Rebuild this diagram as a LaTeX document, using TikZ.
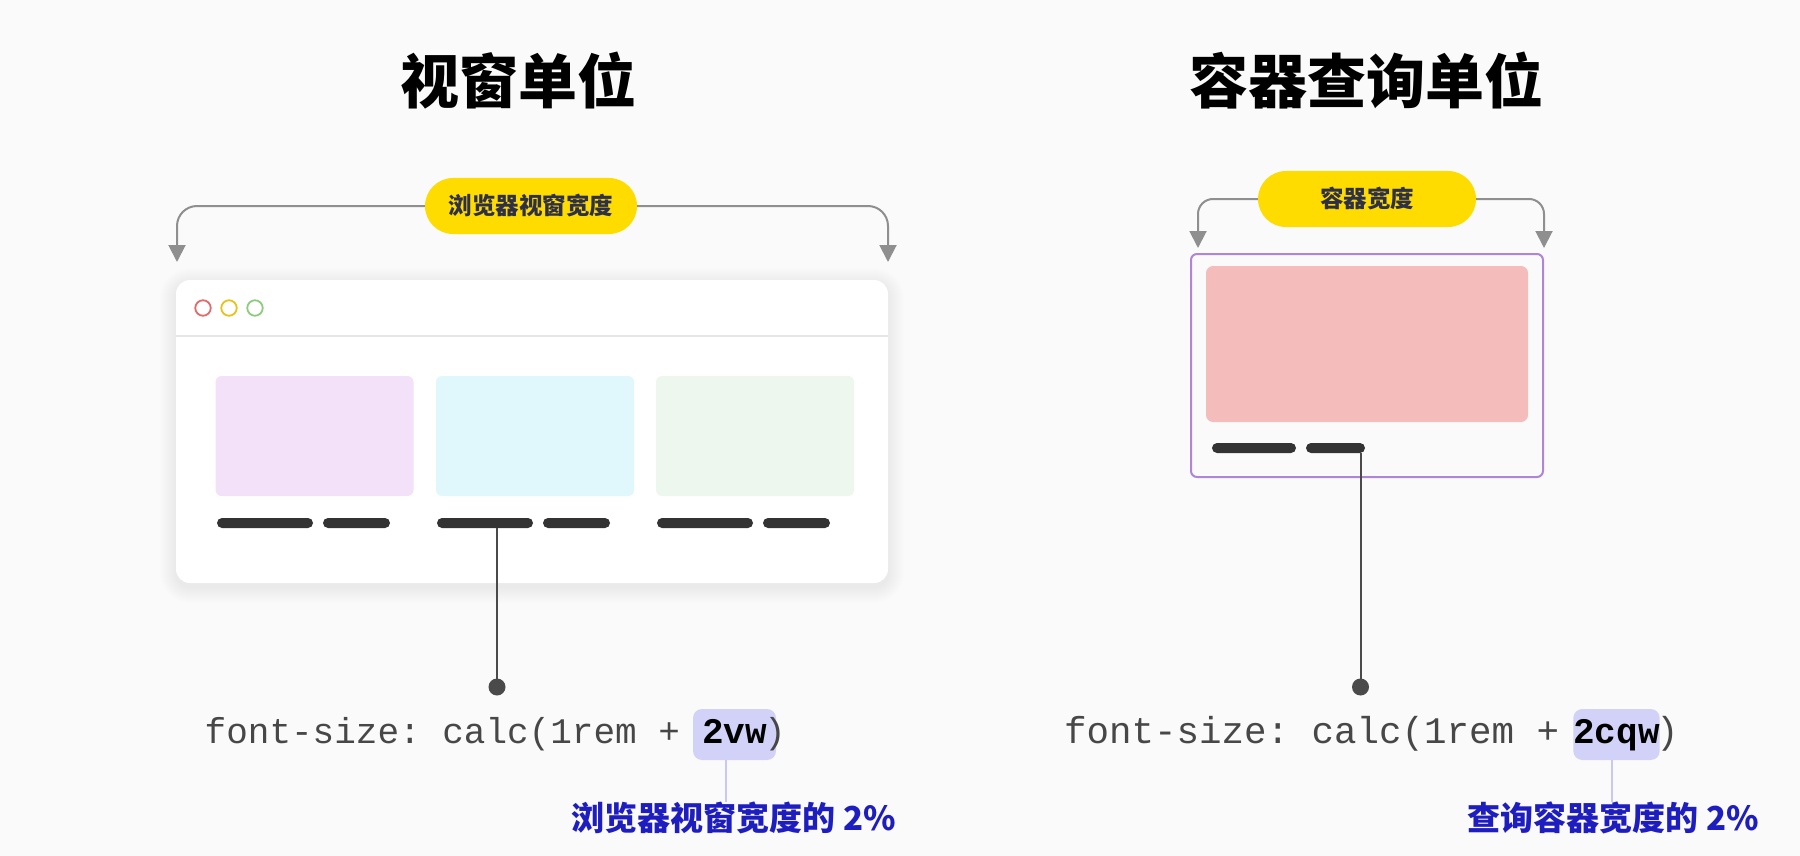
\documentclass[tikz,border=0pt]{standalone}
\usepackage{fontspec}
\newfontfamily\cjk{Noto Sans CJK SC}
\setmonofont{Liberation Mono}
\usetikzlibrary{arrows.meta}
\definecolor{bg}{HTML}{FAFAFA}
\definecolor{brk}{HTML}{8F8F8F}
\definecolor{pillyellow}{HTML}{FFDC00}
\definecolor{pilltext}{HTML}{2E3048}
\definecolor{cardA}{HTML}{F3E1FA}
\definecolor{cardB}{HTML}{E0F7FB}
\definecolor{cardC}{HTML}{EDF7EE}
\definecolor{bar}{HTML}{333333}
\definecolor{conn}{HTML}{4A4A4A}
\definecolor{codegray}{HTML}{474747}
\definecolor{hlfill}{HTML}{D2D2F8}
\definecolor{lavline}{HTML}{C8C8F2}
\definecolor{labblue}{HTML}{1E1EC0}
\definecolor{contborder}{HTML}{AF85DA}
\definecolor{pink}{HTML}{F4BDBB}
\definecolor{dotred}{HTML}{E06B6B}
\definecolor{dotyellow}{HTML}{E8C21A}
\definecolor{dotgreen}{HTML}{8FCB7F}
\definecolor{sepgray}{HTML}{E6E6E6}
\begin{document}
\begin{tikzpicture}[x=1pt,y=-1pt,
  title/.style={inner sep=0, font={\cjk\bfseries\fontsize{59}{64}\selectfont}, text=black},
  pill/.style={fill=pillyellow, rounded corners=28pt, minimum height=56pt, inner sep=0,
    font={\cjk\bfseries\fontsize{23.5}{26}\selectfont}, text=pilltext},
  bracket/.style={draw=brk, line width=2pt, -{Triangle[width=17pt,length=17pt]}},
  card/.style={rounded corners=6pt, minimum width=198pt, minimum height=120pt, inner sep=0},
  barbox/.style={fill=bar, rounded corners=5pt, minimum height=10pt, inner sep=0},
  winddot/.style={circle, draw=#1, line width=1.8pt, minimum size=15.5pt, inner sep=0},
  connline/.style={draw=conn, line width=2pt},
  conndot/.style={circle, fill=conn, minimum size=17pt, inner sep=0},
  code/.style={inner sep=0, text=codegray, anchor=base west},
  hl/.style={fill=hlfill, rounded corners=9pt, inner xsep=0, inner ysep=0,
    text height=34pt, text depth=17pt, text=black, anchor=base,
    font={\ttfamily\bfseries\fontsize{36}{40}\selectfont}},
  lavl/.style={draw=lavline, line width=2pt},
  lab/.style={inner sep=0, anchor=east, text=labblue, font={\cjk\bfseries\fontsize{33}{36}\selectfont}}
]
\useasboundingbox (0,0) rectangle (1800,856);
\fill[bg] (0,0) rectangle (1800,856);

% ---------- titles
\node[title] (t1) at (518,81) {视窗单位};
\node[title] (t2) at (1366,81) {容器查询单位};

% ---------- left: browser window
\foreach \i in {1,...,16} {
  \fill[black, opacity=0.004, rounded corners={14pt+\i pt}] (176-\i,280-\i+4) rectangle (888+\i,583+\i+4);
}
\node[fill=white, rounded corners=14pt, minimum width=712pt, minimum height=303pt, inner sep=0] (win) at (532,431.5) {};
\draw[sepgray, line width=1.5pt] (win.west |- 0,336) -- (win.east |- 0,336);
\node[winddot=dotred] (d1) at (203,308) {};
\node[winddot=dotyellow] (d2) at (229,308) {};
\node[winddot=dotgreen] (d3) at (255,308) {};

\node[card, fill=cardA] (c1) at (314.5,436) {};
\node[card, fill=cardB] (c2) at (535,436) {};
\node[card, fill=cardC] (c3) at (755,436) {};

\node[barbox, minimum width=96pt] (lb1) at (265,523) {};
\node[barbox, minimum width=67pt] (lb2) at (356.5,523) {};
\node[barbox, minimum width=96pt] (mb1) at (485,523) {};
\node[barbox, minimum width=67pt] (mb2) at (576.5,523) {};
\node[barbox, minimum width=96pt] (rb1) at (705,523) {};
\node[barbox, minimum width=67pt] (rb2) at (796.5,523) {};

% left pill + bracket
\node[pill, minimum width=212pt] (lp) at (531,206) {浏览器视窗宽度};
\coordinate (la1) at (177,262);
\coordinate (la2) at (888,262);
\draw[bracket, rounded corners=20pt] (lp.west) -| (la1);
\draw[bracket, rounded corners=20pt] (lp.east) -| (la2);

% left connector
\node[conndot] (ldot) at (497,687) {};
\draw[connline] (mb1.south -| ldot) -- (ldot.center);

% left code
\node[code, font={\ttfamily\fontsize{36}{40}\selectfont}] (lcode) at (204.5,743) {font-size: calc(1rem +};
\node[hl, minimum width=83pt] (lhl) at (734.5,743) {2vw};
\node[code, font={\ttfamily\fontsize{36}{40}\selectfont}] (lpar) at (764,743) {)};
\node[lab] (llab) at (896,818) {浏览器视窗宽度的 2\%};
\coordinate (lx) at (726,0);
\draw[lavl] (lhl.south -| lx) -- (llab.north -| lx);

% ---------- right: container
\node[draw=contborder, line width=2pt, fill=bg, rounded corners=6pt, minimum width=352pt, minimum height=223pt, inner sep=0] (cont) at (1367,365.5) {};
\node[fill=pink, rounded corners=7pt, minimum width=322pt, minimum height=156pt, inner sep=0] (pinkc) at (1367,344) {};
\node[barbox, minimum width=84pt] (qb1) at (1254,448) {};
\node[barbox, minimum width=59pt] (qb2) at (1335.5,448) {};

\node[pill, minimum width=218pt] (rp) at (1367,199) {容器宽度};
\coordinate (ra1) at (1198,248);
\coordinate (ra2) at (1544,248);
\draw[bracket, rounded corners=15pt] (rp.west) -| (ra1);
\draw[bracket, rounded corners=15pt] (rp.east) -| (ra2);

\node[conndot] (rdot) at (1360.5,687) {};
\draw[connline] (qb2.south -| rdot) -- (rdot.center);

\node[code, font={\ttfamily\fontsize{37.5}{41}\selectfont}] (rcode) at (1064,743) {font-size: calc(1rem +};
\node[hl, minimum width=85pt] (rhl) at (1616.5,743) {2cqw};
\node[code, font={\ttfamily\fontsize{37.5}{41}\selectfont}] (rpar) at (1656,743) {)};
\node[lab] (rlab) at (1759,818) {查询容器宽度的 2\%};
\coordinate (rx) at (1612,0);
\draw[lavl] (rhl.south -| rx) -- (rlab.north -| rx);
\end{tikzpicture}
\end{document}
